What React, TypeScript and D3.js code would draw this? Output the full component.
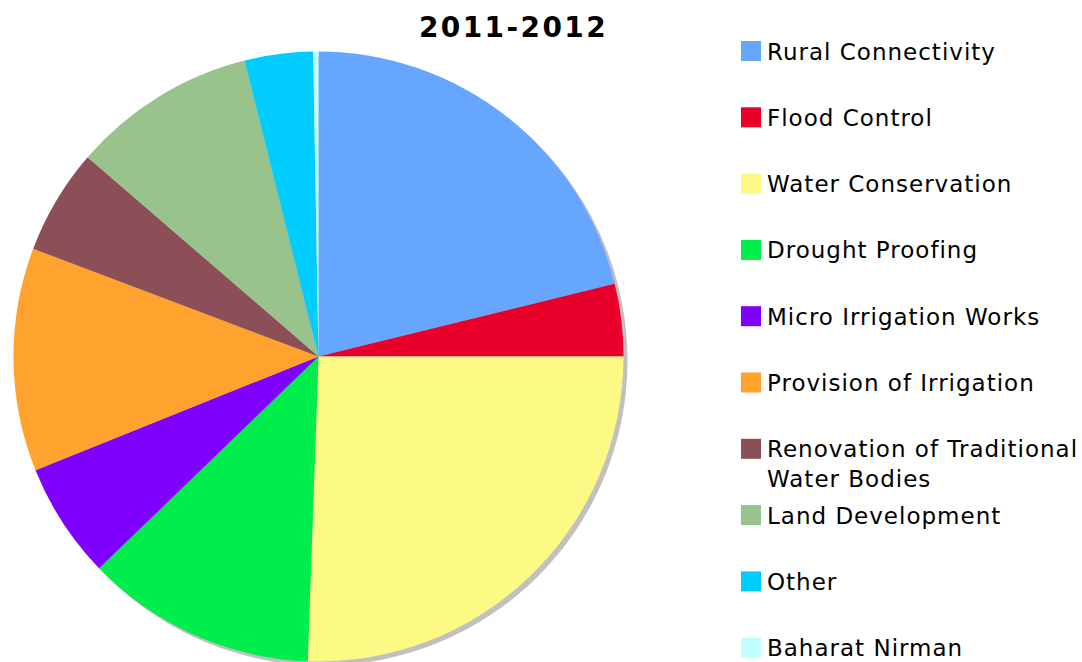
import { useEffect, useRef } from 'react'
import * as d3 from 'd3'

const title = '2011-2012'

const categories = [
  'Rural Connectivity',
  'Flood Control',
  'Water Conservation',
  'Drought Proofing',
  'Micro Irrigation Works',
  'Provision of Irrigation',
  'Renovation of Traditional Water Bodies',
  'Land Development',
  'Other',
  'Baharat Nirman',
]

// share of expenditure, percent
const shares = [21.17, 3.83, 25.56, 12.22, 6.14, 11.83, 5.58, 9.78, 3.61, 0.28]

const colors = [
  '#66a6ff',
  '#e8002a',
  '#fcf985',
  '#00ee4c',
  '#8000ff',
  '#ffa22e',
  '#8c4f57',
  '#99c38c',
  '#00ccff',
  '#c0ffff',
]

// legend labels that wrap onto two lines
const legendLines = [
  ['Rural Connectivity'],
  ['Flood Control'],
  ['Water Conservation'],
  ['Drought Proofing'],
  ['Micro Irrigation Works'],
  ['Provision of Irrigation'],
  ['Renovation of Traditional', 'Water Bodies'],
  ['Land Development'],
  ['Other'],
  ['Baharat Nirman'],
]

export default function App() {
  const ref = useRef<SVGSVGElement | null>(null)

  useEffect(() => {
    if (!ref.current) return
    const svg = d3.select(ref.current)
    svg.selectAll('*').remove()

    const width = 1082
    const height = 662
    const cx = 318.5
    const cy = 356.5
    const radius = 305
    const font = 'DejaVu Sans, Verdana, sans-serif'

    const data = categories.map((name, i) => ({ name, value: shares[i] }))
    const color = d3.scaleOrdinal<string>().domain(categories).range(colors)

    const pie = d3.pie<{ name: string; value: number }>().sort(null).value(d => d.value)
    const arc = d3.arc<d3.PieArcDatum<{ name: string; value: number }>>().innerRadius(0).outerRadius(radius)

    // drop shadow
    svg
      .append('circle')
      .attr('cx', cx + 4)
      .attr('cy', cy + 4)
      .attr('r', radius)
      .attr('fill', '#c0c0c0')

    const g = svg.append('g').attr('transform', `translate(${cx},${cy})`)
    g.selectAll('path')
      .data(pie(data))
      .enter()
      .append('path')
      .attr('d', arc)
      .attr('fill', d => color(d.data.name))

    // title
    svg
      .append('text')
      .attr('x', 513.5)
      .attr('y', 36.5)
      .attr('text-anchor', 'middle')
      .style('font-family', font)
      .style('font-weight', 'bold')
      .style('font-size', '28px')
      .style('letter-spacing', '2.4px')
      .text(title)

    // legend
    const rowStep = 66.3
    const legend = svg.append('g').attr('transform', 'translate(741, 59.5)')
    categories.forEach((name, i) => {
      const row = legend.append('g').attr('transform', `translate(0, ${i * rowStep})`)
      row.append('rect').attr('x', 0).attr('y', -18.5).attr('width', 20).attr('height', 20).attr('fill', color(name))
      const text = row
        .append('text')
        .attr('x', 26)
        .attr('y', 0)
        .style('font-family', font)
        .style('font-size', '23px')
        .style('letter-spacing', '1px')
        .attr('fill', '#000')
      legendLines[i].forEach((line, j) => {
        text.append('tspan').attr('x', 26).attr('dy', j === 0 ? 0 : 30).text(line)
      })
    })

    svg.attr('width', width).attr('height', height)
  }, [])

  return <svg ref={ref} style={{ position: 'absolute', left: 0, top: 0, display: 'block' }}></svg>
}
